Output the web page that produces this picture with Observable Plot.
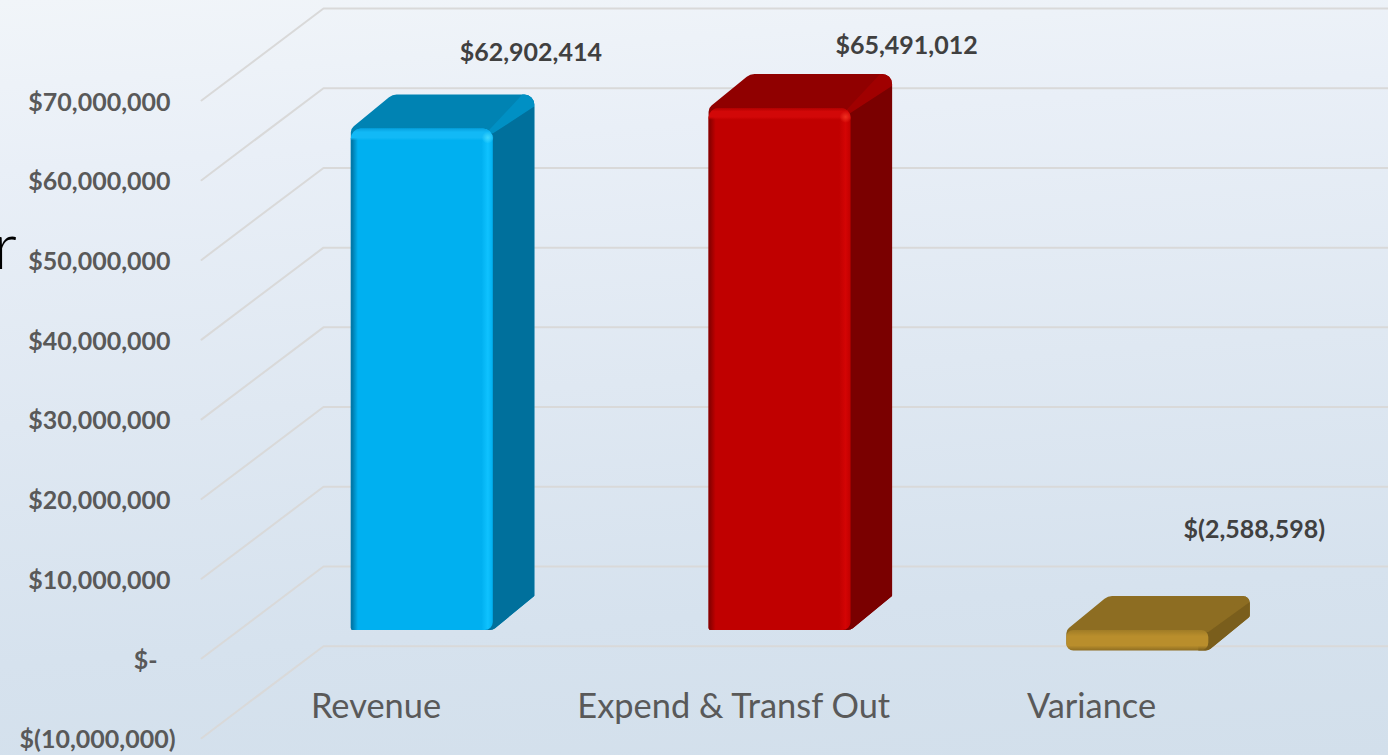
<!DOCTYPE html>
<html>
<head>
<meta charset="utf-8">
<script src="https://cdn.jsdelivr.net/npm/d3@7"></script>
<script src="https://cdn.jsdelivr.net/npm/@observablehq/plot@0.6"></script>
<style>
html,body{margin:0;padding:0;width:1388px;height:755px;overflow:hidden;
background:linear-gradient(176deg,#f1f5f9 0%,#e9eff7 20%,#dfe8f2 50%,#d6e2ee 78%,#d2dfeb 100%);}
svg{display:block;background:transparent!important;overflow:hidden}
</style>
</head>
<body>
<script>
const categories = ["Revenue", "Expend & Transf Out", "Variance"];
const values = [62902414, 65491012, -2588598];
const valueLabels = ["$62,902,414", "$65,491,012", "$(2,588,598)"];
const tickValues = [70e6, 60e6, 50e6, 40e6, 30e6, 20e6, 10e6];
const specialTicks = [0, -10e6];
const faceColors = [
  {id:"b", front:"#00b0f0", top:"#0083b3", side:"#00709c", edge:"#0090c4", dark:"#0079aa", bright:"#0fc2ff", band:"#12b9f6", bandTop:"#07a2e0", spot:"#3fd8ff"},
  {id:"r", front:"#c00000", top:"#900000", side:"#7a0000", edge:"#a00000", dark:"#8a0000", bright:"#d40404", band:"#d20808", bandTop:"#b00000", spot:"#f03020"},
  {id:"g", front:"#b98e2c", top:"#8d6d22", side:"#7a5e1c", edge:"#8d6d22", dark:"#8a6a20", bright:"#c69a34", band:"#b98e2c", bandTop:"#a07c26", spot:"#c69a34"}
];
const labelNudge = [[109,-76],[127,-62],[117,-121]];

const pxPerDollar = 558 / 70e6;
const unit = 357.75;
const wallDX = 122 / unit, wallDY = 92 / pxPerDollar;
const wallLeft = (201 - 375.5) / unit, wallRight = (1388 - 375.5) / unit;
const barShift = 8 / unit, barHalf = 71 / unit;
const barFrontD = 0.31;
const barDepthX = 41.5 / unit, barDepthY = 34 / pxPerDollar;
const bevel = 12 / pxPerDollar;
const px = n => n / unit, py = n => n / pxPerDollar;

// closes a polygon with a given corner radius at each vertex
const rounded = radii => ctx => {
  let p;
  return {
    areaStart(){}, areaEnd(){},
    lineStart(){ p = []; },
    point(x, y){ p.push([+x, +y]); },
    lineEnd(){
      const n = p.length;
      ctx.moveTo((p[n-1][0]+p[0][0])/2, (p[n-1][1]+p[0][1])/2);
      for (let i = 0; i < n; i++) {
        const a = p[i], b = p[(i+1)%n];
        if (radii[i]) ctx.arcTo(a[0], a[1], b[0], b[1], radii[i]);
        else ctx.lineTo(a[0], a[1]);
      }
      ctx.closePath();
    }
  };
};

const poly = (pts, o) => Plot.line(pts, {x:"x", y:"y", stroke:"none", ...o});

const grid = [...tickValues, ...specialTicks].flatMap(v => [
  {t:v, x:wallLeft, y:v},
  {t:v, x:wallLeft + wallDX, y:v + wallDY},
  {t:v, x:wallRight, y:v + wallDY}
]);

const barMarks = values.flatMap((v, i) => {
  const c = faceColors[i];
  const small = v < 0;
  const hi = Math.max(v, 0), lo = Math.min(v, 0);
  const cx = i + barShift + barFrontD * wallDX;
  const L = cx - barHalf, R = cx + barHalf;
  const base = barFrontD * wallDY;
  const yHi = hi + base, yLo = lo + base;
  const BX = R + barDepthX, BT = yHi + barDepthY, BB = yLo + barDepthY;
  const cornerR = small ? 7 : 10;
  const e = small ? 6 : 12;
  const marks = [];
  // whole outline, filled with the top colour
  marks.push(poly([
    {x:L, y:yHi}, {x:L+barDepthX, y:BT}, {x:BX, y:BT},
    {x:BX, y:BB}, {x:R, y:yLo}, {x:L, y:yLo}
  ], {fill:c.top, curve:rounded(small ? [7,12,cornerR,3,8,7] : [8,12,cornerR,1,8,2])}));
  // lit edge where the top meets the side
  marks.push(poly([
    {x:R-px(6), y:yHi-py(4)}, {x:BX-px(e), y:BT}, {x:BX, y:BT},
    {x:BX, y:BT-py(e)}, {x:R, y:yHi-py(small?2:5)}
  ], {fill:c.edge, curve:rounded([0,0,cornerR,0,0])}));
  // side face
  marks.push(poly([
    {x:R-px(10), y:yHi-py(small?2:5)}, {x:R, y:yHi-py(small?2:5)}, {x:BX, y:BT-py(e)},
    {x:BX, y:BB}, {x:R, y:yLo}, {x:R-px(10), y:yLo}
  ], {fill:c.side, curve:rounded([0,0,0,small?3:1,8,0])}));
  // front face
  marks.push(poly([
    {x:L, y:yHi}, {x:R, y:yHi}, {x:R, y:yLo}, {x:L, y:yLo}
  ], {fill:small ? "url(#gv)" : `url(#${c.id}h)`, curve:rounded(small ? [7,7,8,7] : [10,10,8,2])}));
  if (!small) {
    // lit bevel along the front's top edge
    marks.push(poly([
      {x:L, y:yHi}, {x:R, y:yHi}, {x:R, y:yHi-bevel}, {x:L, y:yHi-bevel}
    ], {fill:`url(#${c.id}v)`, curve:rounded([10,10,0,0])}));
    marks.push(Plot.dot([{x:R, y:yHi}], {x:"x", y:"y", r:6, fill:`url(#${c.id}s)`, dx:-5, dy:9}));
  }
  return marks;
});

const labelMarks = values.map((v, i) => Plot.text([{x:i + barShift + barFrontD*wallDX, y:v + barFrontD*wallDY, s:valueLabels[i]}], {
  x:"x", y:"y", text:"s", dx:labelNudge[i][0], dy:labelNudge[i][1],
  fontFamily:"Lato", fontWeight:700, fontSize:25, fill:"#404040", textAnchor:"middle"
}));

const defs = () => {
  const d = d3.create("svg:defs");
  const grad = (id, horizontal, stops) => {
    const g = d.append("linearGradient").attr("id", id)
      .attr("x1",0).attr("y1",0).attr("x2",horizontal?1:0).attr("y2",horizontal?0:1);
    stops.forEach(([o,col,a]) => g.append("stop").attr("offset",o).attr("stop-color",col).attr("stop-opacity",a ?? 1));
  };
  faceColors.forEach(c => {
    grad(c.id+"h", true, [[0,c.dark],[0.01,c.dark],[0.05,c.front],[0.92,c.front],[0.965,c.bright],[1,c.front]]);
    grad(c.id+"v", false, [[0,c.bandTop],[0.3,c.band],[0.75,c.band],[1,c.band,0]]);
    const s = d.append("radialGradient").attr("id", c.id+"s");
    s.append("stop").attr("offset",0).attr("stop-color",c.spot);
    s.append("stop").attr("offset",1).attr("stop-color",c.spot).attr("stop-opacity",0);
  });
  grad("gv", false, [[0,"#a07c26"],[0.2,"#b98e2c"],[0.7,"#b98e2c"],[1,"#7a5e1c"]]);
  return d.node();
};

const axisStyle = {tickSize:0, tickPadding:0, label:null, anchor:"left",
  fontFamily:"Lato", fontWeight:700, fontSize:25, fill:"#595959", dy:2};
const money = v => v === 0 ? "$-" : v < 0 ? "$(" + d3.format(",")(-v) + ")" : d3.format("$,")(v);

const chart = Plot.plot({
  width:1388, height:755,
  marginTop:0, marginRight:0, marginBottom:65, marginLeft:0,
  style:{background:"transparent", overflow:"hidden"},
  x:{type:"linear", domain:[0,2], range:[375.5,1091]},
  y:{type:"linear", domain:[0,70e6], range:[658,100]},
  marks:[
    defs,
    Plot.line(grid, {x:"x", y:"y", z:"t", stroke:"#d9d9d9", strokeWidth:2, strokeLinejoin:"round"}),
    Plot.axisY(tickValues, {...axisStyle, dx:170, tickFormat:money}),
    Plot.axisY([0], {...axisStyle, dx:157, tickFormat:money}),
    Plot.axisY([-10e6], {...axisStyle, dx:175, tickFormat:money}),
    Plot.axisX([0,1,2], {anchor:"bottom", tickSize:0, tickPadding:0, label:null,
      tickFormat:i => categories[i], fontFamily:"Lato", fontSize:34.4, fill:"#595959", dy:3}),
    ...barMarks,
    ...labelMarks,
    Plot.text(["r"], {frameAnchor:"top-left", text:d=>d, dx:-7, dy:222, fontFamily:"Lato", fontWeight:300, fontSize:66, fill:"#000", textAnchor:"start"})
  ]
});
document.body.appendChild(chart);
</script>
</body>
</html>
